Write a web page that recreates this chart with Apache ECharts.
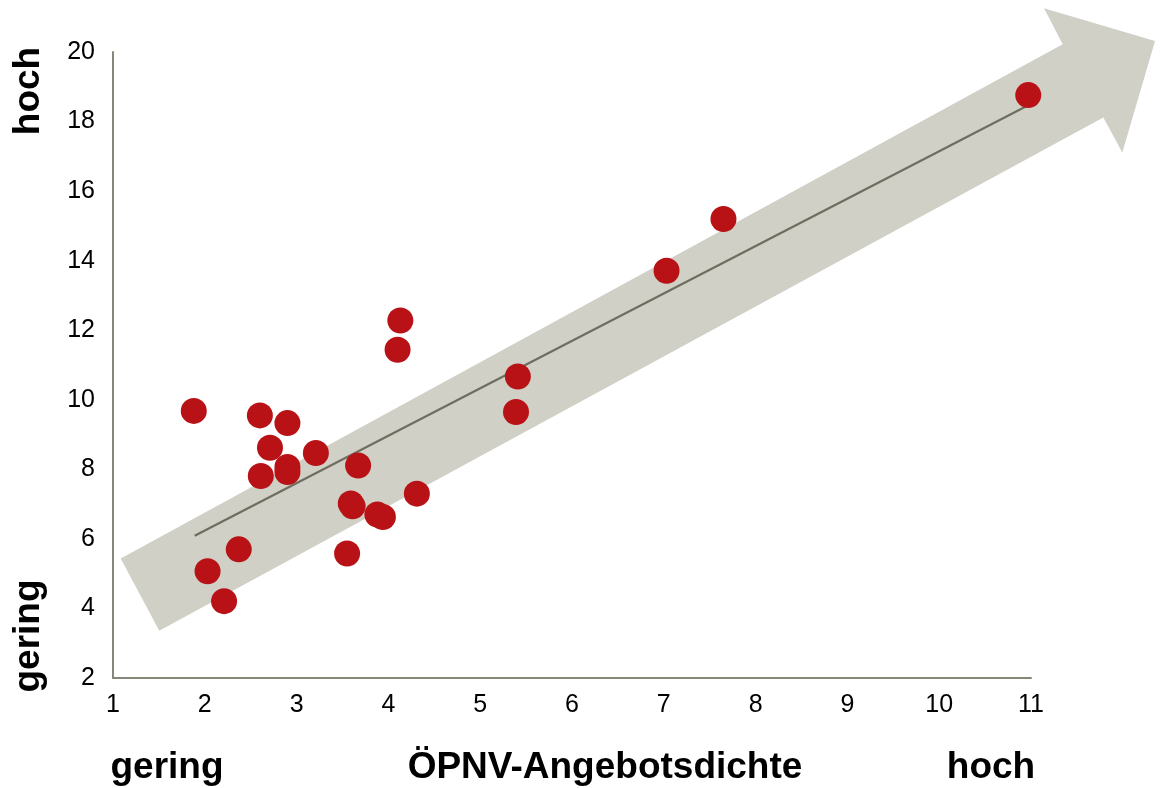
<!DOCTYPE html>
<html>
<head>
<meta charset="utf-8">
<script src="https://cdn.jsdelivr.net/npm/echarts@6/dist/echarts.min.js"></script>
<style>
html,body{margin:0;padding:0;background:#fff;}
#chart{width:1160px;height:788px;}
</style>
</head>
<body>
<div id="chart"></div>
<script>
// Scatter data (x: ÖPNV-Angebotsdichte, y: value)
const pointX = [1.88, 2.03, 2.21, 2.37, 3.55, 2.60, 2.90, 2.71, 3.21, 2.61, 2.90, 2.90, 3.67, 3.59, 3.61, 3.88, 3.94, 4.31, 4.13, 4.10, 5.41, 5.39, 7.03, 7.65, 10.97];
const pointY = [9.68, 5.07, 4.21, 5.70, 5.58, 9.55, 9.33, 8.62, 8.47, 7.81, 8.07, 7.92, 8.11, 7.02, 6.94, 6.70, 6.63, 7.30, 12.28, 11.44, 10.67, 9.65, 13.71, 15.20, 18.76];
// Trend line
const trendX = [1.89, 10.97];
const trendY = [6.09, 18.47];
// Background arrow outline (data coordinates)
const arrowX = [1.084, 1.504, 11.788, 11.995, 12.351, 11.142, 11.345];
const arrowY = [5.437, 3.358, 18.116, 17.11, 20.318, 21.256, 20.222];
// Axis ranges / ticks
const xMin = 1, xMax = 11, xStep = 1;
const yMin = 2, yMax = 20, yStep = 2;
// Axis captions
const yHigh = 'hoch', yLow = 'gering';
const xLow = 'gering', xTitle = 'ÖPNV-Angebotsdichte', xHigh = 'hoch';

const FONT = '"Liberation Sans", Arial, sans-serif';
const chart = echarts.init(document.getElementById('chart'));
const axisLine = {show: true, lineStyle: {color: '#878779', width: 2}};
const labelStyle = {color: '#000', fontSize: 25, fontFamily: FONT};
const titleStyle = {fill: '#000', font: 'bold 37px ' + FONT};

chart.setOption({
  animation: false,
  grid: {left: 113, right: 129, top: 52, bottom: 110, containLabel: false},
  xAxis: {
    type: 'value', min: xMin, max: xMax, interval: xStep,
    axisLine: axisLine, axisTick: {show: false}, splitLine: {show: false},
    axisLabel: Object.assign({margin: 15}, labelStyle)
  },
  yAxis: {
    type: 'value', min: yMin, max: yMax, interval: yStep,
    axisLine: axisLine, axisTick: {show: false}, splitLine: {show: false},
    axisLabel: Object.assign({margin: 18}, labelStyle)
  },
  graphic: [
    {type: 'text', x: 29, y: 91, rotation: Math.PI / 2,
      style: Object.assign({text: yHigh, align: 'center', verticalAlign: 'middle'}, titleStyle)},
    {type: 'text', x: 29, y: 636, rotation: Math.PI / 2,
      style: Object.assign({text: yLow, align: 'center', verticalAlign: 'middle'}, titleStyle)},
    {type: 'text', x: 167, y: 768,
      style: Object.assign({text: xLow, align: 'center', verticalAlign: 'middle'}, titleStyle)},
    {type: 'text', x: 605, y: 768,
      style: Object.assign({text: xTitle, align: 'center', verticalAlign: 'middle'}, titleStyle)},
    {type: 'text', x: 991, y: 768,
      style: Object.assign({text: xHigh, align: 'center', verticalAlign: 'middle'}, titleStyle)}
  ],
  series: [
    {
      type: 'custom', clip: false, silent: true, z: 1,
      data: [0],
      renderItem: function (params, api) {
        const pts = arrowX.map((x, i) => api.coord([x, arrowY[i]]));
        return {type: 'polygon', shape: {points: pts}, style: {fill: '#d0d0c7'}};
      }
    },
    {
      type: 'line', z: 2, symbol: 'none',
      data: trendX.map((x, i) => [x, trendY[i]]),
      lineStyle: {color: '#6e6e60', width: 2.2}
    },
    {
      type: 'scatter', z: 3, symbolSize: 26,
      data: pointX.map((x, i) => [x, pointY[i]]),
      itemStyle: {color: '#b81216', opacity: 1}
    }
  ]
});
</script>
</body>
</html>
